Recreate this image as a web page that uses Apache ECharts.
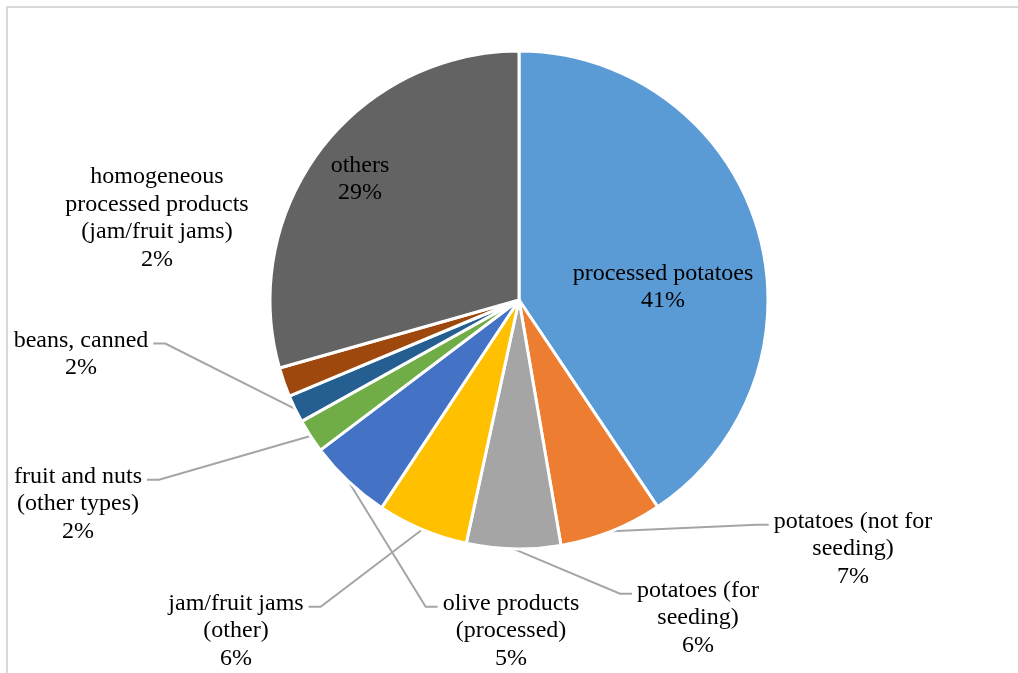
<!DOCTYPE html>
<html>
<head>
<meta charset="utf-8">
<script src="https://cdn.jsdelivr.net/npm/echarts@6/dist/echarts.min.js"></script>
<style>
  html, body { margin: 0; padding: 0; background: #fff; }
  #chart { width: 1018px; height: 673px; }
</style>
</head>
<body>
<div id="chart"></div>
<script>
// slice names (clockwise from 12 o'clock) and shares
var categories = [
  'processed potatoes',
  'potatoes (not for\nseeding)',
  'potatoes (for\nseeding)',
  'jam/fruit jams\n(other)',
  'olive products\n(processed)',
  'fruit and nuts\n(other types)',
  'beans, canned',
  'homogeneous\nprocessed products\n(jam/fruit jams)',
  'others'
];
var values = [40.6, 6.7, 6.1, 5.9, 5.4, 2.2, 1.8, 1.9, 29.4];

var colors = ['#5B9BD5', '#ED7D31', '#A5A5A5', '#FFC000', '#4472C4',
              '#70AD47', '#255E91', '#9E480E', '#636363'];

// where each label block sits (centre x, centre y) and which side its leader line joins
var labelPos = [[663, 287], [853, 549], [698, 618], [236, 631], [511, 631],
                [78, 504], [81, 354], [157, 218], [360, 179]];
var lineSide = [null, 'left', 'left', 'right', 'left', 'right', 'right', null, null];

var chart = echarts.init(document.getElementById('chart'));

var seriesData = [];
for (var i = 0; i < categories.length; i++) {
  seriesData.push({
    name: categories[i],
    value: values[i],
    itemStyle: { color: colors[i] },
    labelLine: { show: lineSide[i] != null }
  });
}

var option = {
  animation: false,
  graphic: [{
    type: 'rect',
    shape: { x: 7, y: 7, width: 1040, height: 700 },
    style: { fill: null, stroke: '#D9D9D9', lineWidth: 2 },
    silent: true
  }],
  series: [{
    type: 'pie',
    center: [519, 300],
    radius: 249,
    startAngle: 90,
    clockwise: true,
    avoidLabelOverlap: false,
    itemStyle: { borderColor: '#fff', borderWidth: 3 },
    label: {
      show: true,
      position: 'outside',
      fontFamily: '"Liberation Serif", "DejaVu Serif", serif',
      fontSize: 24,
      lineHeight: 27.5,
      color: '#000',
      align: 'center',
      formatter: function (p) {
        return p.name + '\n' + Math.round(p.percent) + '%';
      }
    },
    labelLine: {
      show: true,
      lineStyle: { color: '#A5A5A5', width: 2 }
    },
    labelLayout: function (p) {
      var pos = labelPos[p.dataIndex];
      var out = { x: pos[0], y: pos[1], align: 'center', verticalAlign: 'middle' };
      var side = lineSide[p.dataIndex];
      if (side && p.labelLinePoints) {
        var w = p.labelRect.width, h = p.labelRect.height;
        var ly = pos[1] - h / 2 + 17;
        var ex = side === 'left' ? pos[0] - w / 2 - 5 : pos[0] + w / 2 + 5;
        var bx = side === 'left' ? ex - 12 : ex + 12;
        out.labelLinePoints = [p.labelLinePoints[0], [bx, ly], [ex, ly]];
      }
      return out;
    },
    data: seriesData
  }]
};

chart.setOption(option);
</script>
</body>
</html>
